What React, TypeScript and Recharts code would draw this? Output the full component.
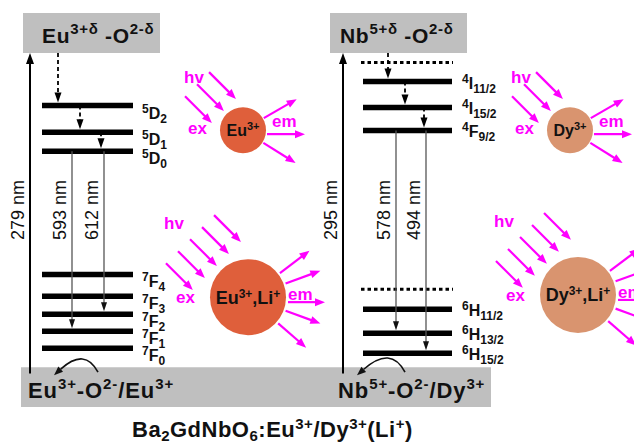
import React from 'react';
import { ComposedChart, XAxis, YAxis, ReferenceLine, ReferenceArea, ReferenceDot } from 'recharts';

// ---------------- data ----------------
// Relative energy scale: 0 = host ground band, chargeTransferEnergy = CT band edge
const chargeTransferEnergy = 99.5;
const ctBandTop = 112.2;
const hostBandBottom = -12.6;
const excitationStart = -2;

const euLevels = [
  { sup: '5', term: 'D', sub: '2', energy: 82.9 },
  { sup: '5', term: 'D', sub: '1', energy: 74.4 },
  { sup: '5', term: 'D', sub: '0', energy: 68.4 },
  { sup: '7', term: 'F', sub: '4', energy: 29.4 },
  { sup: '7', term: 'F', sub: '3', energy: 22.5 },
  { sup: '7', term: 'F', sub: '2', energy: 16.8 },
  { sup: '7', term: 'F', sub: '1', energy: 11.4 },
  { sup: '7', term: 'F', sub: '0', energy: 6.0 },
];
const dyLevels = [
  { sup: '4', term: 'I', sub: '11/2', energy: 90.5 },
  { sup: '4', term: 'I', sub: '15/2', energy: 82.3 },
  { sup: '4', term: 'F', sub: '9/2', energy: 75.0 },
  { sup: '6', term: 'H', sub: '11/2', energy: 18.4 },
  { sup: '6', term: 'H', sub: '13/2', energy: 10.8 },
  { sup: '6', term: 'H', sub: '15/2', energy: 4.4 },
];
const dyDottedLevels = [96.5, 24.7];
const euCascade = ['CT', '5D2', '5D1', '5D0'];
const dyCascade = ['CT', '4I11/2', '4I15/2', '4F9/2'];
const euEmissions = [
  { label: '593 nm', from: '5D0', to: '7F1' },
  { label: '612 nm', from: '5D0', to: '7F2' },
];
const dyEmissions = [
  { label: '578 nm', from: '4F9/2', to: '6H13/2' },
  { label: '494 nm', from: '4F9/2', to: '6H15/2' },
];
const excitationLabels = ['279 nm', '295 nm'];

type Seg = { t: string; s?: 'sup' | 'sub' };
const topBoxTexts: Seg[][] = [
  [{ t: 'Eu' }, { t: '3+δ', s: 'sup' }, { t: ' -O' }, { t: '2-δ', s: 'sup' }],
  [{ t: 'Nb' }, { t: '5+δ', s: 'sup' }, { t: ' -O' }, { t: '2-δ', s: 'sup' }],
];
const bottomTexts: Seg[][] = [
  [{ t: 'Eu' }, { t: '3+', s: 'sup' }, { t: '-O' }, { t: '2-', s: 'sup' }, { t: '/Eu' }, { t: '3+', s: 'sup' }],
  [{ t: 'Nb' }, { t: '5+', s: 'sup' }, { t: '-O' }, { t: '2-', s: 'sup' }, { t: '/Dy' }, { t: '3+', s: 'sup' }],
];
const titleText: Seg[] = [
  { t: 'Ba' }, { t: '2', s: 'sub' }, { t: 'GdNbO' }, { t: '6', s: 'sub' }, { t: ':Eu' }, { t: '3+', s: 'sup' },
  { t: '/Dy' }, { t: '3+', s: 'sup' }, { t: '(Li' }, { t: '+', s: 'sup' }, { t: ')' },
];
const ionNames: Seg[][] = [
  [{ t: 'Eu' }, { t: '3+', s: 'sup' }],
  [{ t: 'Eu' }, { t: '3+', s: 'sup' }, { t: ',Li' }, { t: '+', s: 'sup' }],
  [{ t: 'Dy' }, { t: '3+', s: 'sup' }],
  [{ t: 'Dy' }, { t: '3+', s: 'sup' }, { t: ',Li' }, { t: '+', s: 'sup' }],
];

// ---------------- layout / style ----------------
const W = 634;
const H = 445;
const FONT = '"Liberation Sans", Arial, Helvetica, sans-serif';
const MAGENTA = '#FF00FF';
const GRAY = '#BFBFBF';

const columns = [
  {
    levels: euLevels, dotted: [] as number[], cascade: euCascade, emissions: euEmissions,
    axisX: 30, levelX: [42, 133], dottedX: [0, 0], labelX: 142, labelDy: 13,
    cascadeX: [58, 80, 101], emissionX: [72, 104], boxX: [23, 160], boxTextX: 42, bottomTextX: 28,
    curl: { x: 76, start: [22, 5], ctrl: [9, -20], end: [-22, 8] },
  },
  {
    levels: dyLevels, dotted: dyDottedLevels, cascade: dyCascade, emissions: dyEmissions,
    axisX: 343, levelX: [363, 452], dottedX: [361, 453], labelX: 462, labelDy: 7,
    cascadeX: [388, 405, 424], emissionX: [396, 426], boxX: [330, 467], boxTextX: 340, bottomTextX: 338,
    curl: { x: 381, start: [24, 5], ctrl: [10, -22], end: [-24, 8] },
  },
];
const bandX = [21, 491];
const labelE = 49.8;
const boxTextE = 102.7;
const bottomTextE = -9.6;
const titleE = -22.1;
const titleX = 132;

const ionLayout = [
  { x: 243, e: 75.1, fill: '#DF5F3B', big: false },
  { x: 248, e: 22.2, fill: '#DF5F3B', big: true },
  { x: 570, e: 75.1, fill: '#D9946F', big: false },
  { x: 578, e: 22.9, fill: '#D9946F', big: true },
];
const smallGeom = {
  r: 23, inOff: [-17, 0, 17], inAlong: 27, inLen: 38,
  out: [{ a: -30, dy: 0 }, { a: 0, dy: 4 }, { a: 32, dy: 0 }], outStart: 24, outLen: 38,
  hv: [-59, -47], ex: [-55, 4], em: [29, -3], nameSize: 16, nameSmall: 11,
};
const bigGeom = {
  r: 38, inOff: [-34, -17, 0, 17, 34], inAlong: 44, inLen: 38,
  out: [{ a: -37, dy: 0 }, { a: -20, dy: 0 }, { a: 0, dy: 5 }, { a: 20, dy: 0 }, { a: 41, dy: 0 }], outStart: 40, outLen: 37,
  hv: [-84, -68], ex: [-72, 6], em: [40, 3], nameSize: 18, nameSmall: 12,
};

// ---------------- helpers ----------------
const levelKey = (l: { sup: string; term: string; sub: string }) => l.sup + l.term + l.sub;
const energyOf = (levels: typeof euLevels, key: string) =>
  key === 'CT' ? chargeTransferEnergy : (levels.find((l) => levelKey(l) === key) as any).energy;

const Rich = ({ x, y, segs, size, small, sup, sub, fill = '#111', weight = 'bold', anchor = 'start', spacing = 0 }: any) => {
  let cur = 0;
  return (
    <text x={x} y={y} fill={fill} fontFamily={FONT} fontWeight={weight} textAnchor={anchor} letterSpacing={spacing}>
      {segs.map((g: Seg, i: number) => {
        const target = g.s === 'sup' ? -sup : g.s === 'sub' ? sub : 0;
        const dy = target - cur;
        cur = target;
        return (
          <tspan key={i} dy={dy} fontSize={g.s ? small : size} style={{ whiteSpace: 'pre' }}>
            {g.t}
          </tspan>
        );
      })}
    </text>
  );
};

const arrowPath = (x1: number, y1: number, x2: number, y2: number, o: any, key?: any) => {
  const dx = x2 - x1;
  const dy = y2 - y1;
  const L = Math.hypot(dx, dy) || 1;
  const ux = dx / L;
  const uy = dy / L;
  const t = o.trim || 0;
  const tx = x2 - ux * t;
  const ty = y2 - uy * t;
  const bx = tx - ux * o.head;
  const by = ty - uy * o.head;
  const px = (-uy * o.headW) / 2;
  const py = (ux * o.headW) / 2;
  return (
    <g key={key}>
      <line x1={x1} y1={y1} x2={bx + ux} y2={by + uy} stroke={o.line || o.color} strokeWidth={o.width} strokeDasharray={o.dash} />
      <polygon points={`${tx},${ty} ${bx + px},${by + py} ${bx - px},${by - py}`} fill={o.color} />
    </g>
  );
};

const arrowShape = (o: any) => (p: any) => arrowPath(+p.x1, +p.y1, +p.x2, +p.y2, o);

const upArrow = { color: '#000', width: 2, head: 11, headW: 8 };
const cascadeArrow = { color: '#000', width: 1.8, head: 10, headW: 7, dash: '4 3', trim: 3 };
const emissionArrow = { color: '#111', line: '#555', width: 1.3, head: 9, headW: 6, trim: 3 };
const magentaArrow = { color: MAGENTA, width: 2.2, head: 10, headW: 8 };

const ionShape = (idx: number) => (p: any) => {
  const cx = +p.cx;
  const cy = +p.cy;
  const ion = ionLayout[idx];
  const g = ion.big ? bigGeom : smallGeom;
  const s2 = Math.SQRT1_2;
  const ins = g.inOff.map((off, i) => {
    const ex = cx - g.inAlong * s2 + off * s2;
    const ey = cy - g.inAlong * s2 - off * s2;
    return arrowPath(ex - g.inLen * s2, ey - g.inLen * s2, ex, ey, magentaArrow, 'in' + i);
  });
  const outs = g.out.map((o, i) => {
    const a = (o.a * Math.PI) / 180;
    const sx = cx + g.outStart * Math.cos(a);
    const sy = cy + g.outStart * Math.sin(a) + o.dy;
    return arrowPath(sx, sy, sx + g.outLen * Math.cos(a), sy + g.outLen * Math.sin(a), magentaArrow, 'out' + i);
  });
  return (
    <g>
      {ins}
      {outs}
      <circle cx={cx} cy={cy} r={g.r} fill={ion.fill} />
      <Rich x={cx} y={cy + g.nameSize * 0.36} segs={ionNames[idx]} size={g.nameSize} small={g.nameSmall} sup={6} sub={0} anchor="middle" />
      <text x={cx + g.hv[0]} y={cy + g.hv[1]} fill={MAGENTA} fontFamily={FONT} fontWeight="bold" fontSize={17}>hv</text>
      <text x={cx + g.ex[0]} y={cy + g.ex[1]} fill={MAGENTA} fontFamily={FONT} fontWeight="bold" fontSize={17}>ex</text>
      <text x={cx + g.em[0]} y={cy + g.em[1]} fill={MAGENTA} fontFamily={FONT} fontWeight="bold" fontSize={17}>em</text>
    </g>
  );
};

const curlShape = (c: any) => (p: any) => {
  const cx = +p.cx;
  const cy = +p.cy;
  const [sx, sy] = [cx + c.start[0], cy + c.start[1]];
  const [qx, qy] = [cx + c.ctrl[0], cy + c.ctrl[1]];
  const [ex, ey] = [cx + c.end[0], cy + c.end[1]];
  const dx = ex - qx;
  const dy = ey - qy;
  const L = Math.hypot(dx, dy);
  const ux = dx / L;
  const uy = dy / L;
  const bx = ex - ux * 9;
  const by = ey - uy * 9;
  const px = -uy * 3.5;
  const py = ux * 3.5;
  return (
    <g>
      <path d={`M${sx},${sy} Q${qx},${qy} ${bx},${by}`} fill="none" stroke="#111" strokeWidth={1.6} />
      <polygon points={`${ex},${ey} ${bx + px},${by + py} ${bx - px},${by - py}`} fill="#111" />
    </g>
  );
};

export default function App() {
  const items: React.ReactNode[] = [];

  // gray bands
  columns.forEach((c, ci) => {
    items.push(
      <ReferenceArea key={'box' + ci} x1={c.boxX[0]} x2={c.boxX[1]} y1={chargeTransferEnergy} y2={ctBandTop}
        fill={GRAY} fillOpacity={1} stroke="none" ifOverflow="visible" />
    );
  });
  items.push(
    <ReferenceArea key="band" x1={bandX[0]} x2={bandX[1]} y1={hostBandBottom} y2={0}
      fill={GRAY} fillOpacity={1} stroke="none" ifOverflow="visible" />
  );

  columns.forEach((c, ci) => {
    // energy levels
    c.levels.forEach((l, li) => {
      items.push(
        <ReferenceLine key={`lv${ci}-${li}`} segment={[{ x: c.levelX[0], y: l.energy }, { x: c.levelX[1], y: l.energy }]}
          stroke="#000" strokeWidth={5.5} ifOverflow="visible" />
      );
      items.push(
        <ReferenceDot key={`lb${ci}-${li}`} x={c.labelX} y={l.energy} r={0} ifOverflow="visible"
          shape={(p: any) => (
            <Rich x={+p.cx} y={+p.cy + c.labelDy} size={16} small={12} sup={6} sub={4}
              segs={[{ t: l.sup, s: 'sup' }, { t: l.term }, { t: l.sub, s: 'sub' }]} />
          )} />
      );
    });
    c.dotted.forEach((e, di) => {
      items.push(
        <ReferenceLine key={`dt${ci}-${di}`} segment={[{ x: c.dottedX[0], y: e }, { x: c.dottedX[1], y: e }]}
          stroke="#000" strokeWidth={3} strokeDasharray="3.5 3" ifOverflow="visible" />
      );
    });
    // excitation (CT) arrow
    items.push(
      <ReferenceLine key={`ct${ci}`} segment={[{ x: c.axisX, y: excitationStart }, { x: c.axisX, y: chargeTransferEnergy }]}
        ifOverflow="visible" shape={arrowShape(upArrow)} />
    );
    items.push(
      <ReferenceDot key={`ctl${ci}`} x={c.axisX - 12} y={labelE} r={0} ifOverflow="visible"
        shape={(p: any) => (
          <text x={+p.cx} y={+p.cy} transform={`rotate(-90 ${+p.cx} ${+p.cy})`} textAnchor="middle" dominantBaseline="central"
            fontFamily={FONT} fontSize={18} fill="#111">{excitationLabels[ci]}</text>
        )} />
    );
    // non-radiative cascade
    for (let k = 0; k < c.cascade.length - 1; k++) {
      items.push(
        <ReferenceLine key={`cs${ci}-${k}`} ifOverflow="visible" shape={arrowShape(cascadeArrow)}
          segment={[
            { x: c.cascadeX[k], y: energyOf(c.levels, c.cascade[k]) },
            { x: c.cascadeX[k], y: energyOf(c.levels, c.cascade[k + 1]) },
          ]} />
      );
    }
    // emissions
    c.emissions.forEach((em, ei) => {
      items.push(
        <ReferenceLine key={`em${ci}-${ei}`} ifOverflow="visible" shape={arrowShape(emissionArrow)}
          segment={[
            { x: c.emissionX[ei], y: energyOf(c.levels, em.from) },
            { x: c.emissionX[ei], y: energyOf(c.levels, em.to) },
          ]} />
      );
      items.push(
        <ReferenceDot key={`eml${ci}-${ei}`} x={c.emissionX[ei] - 12} y={labelE} r={0} ifOverflow="visible"
          shape={(p: any) => (
            <text x={+p.cx} y={+p.cy} transform={`rotate(-90 ${+p.cx} ${+p.cy})`} textAnchor="middle" dominantBaseline="central"
              fontFamily={FONT} fontSize={18} fill="#111">{em.label}</text>
          )} />
      );
    });
    // band texts
    items.push(
      <ReferenceDot key={`bt${ci}`} x={c.boxTextX} y={boxTextE} r={0} ifOverflow="visible"
        shape={(p: any) => <Rich x={+p.cx} y={+p.cy} segs={topBoxTexts[ci]} size={21} small={15} sup={9} sub={0} spacing={0.7} />} />
    );
    items.push(
      <ReferenceDot key={`bb${ci}`} x={c.bottomTextX} y={bottomTextE} r={0} ifOverflow="visible"
        shape={(p: any) => <Rich x={+p.cx} y={+p.cy} segs={bottomTexts[ci]} size={22} small={15} sup={9} sub={0} spacing={0.9} />} />
    );
    items.push(
      <ReferenceDot key={`cu${ci}`} x={c.curl.x} y={0} r={0} ifOverflow="visible" shape={curlShape(c.curl)} />
    );
  });

  ionLayout.forEach((ion, i) => {
    items.push(<ReferenceDot key={`ion${i}`} x={ion.x} y={ion.e} r={0} ifOverflow="visible" shape={ionShape(i)} />);
  });

  items.push(
    <ReferenceDot key="title" x={titleX} y={titleE} r={0} ifOverflow="visible"
      shape={(p: any) => <Rich x={+p.cx} y={+p.cy} segs={titleText} size={22} small={15} sup={8} sub={4} spacing={0.5} />} />
  );

  return (
    <div style={{ position: 'absolute', left: 0, top: 0, width: W, height: H, background: '#fff' }}>
      <ComposedChart width={W} height={H} margin={{ top: 1, right: 0, bottom: 2, left: 0 }}>
        <XAxis type="number" dataKey="x" domain={[0, W]} hide allowDataOverflow />
        <YAxis type="number" dataKey="y" domain={[-24, 116]} hide allowDataOverflow />
        {items}
      </ComposedChart>
    </div>
  );
}
